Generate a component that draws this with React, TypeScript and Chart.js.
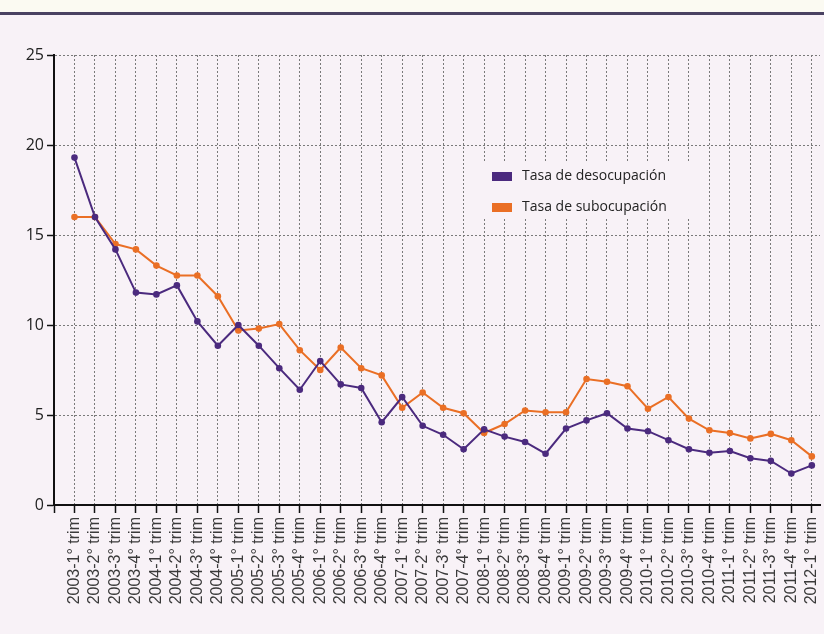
import React, { useEffect, useRef } from "react";
import { Chart, registerables } from "chart.js";

Chart.register(...registerables);

const categories = [
  "2003-1° trim", "2003-2° trim", "2003-3° trim", "2003-4° trim",
  "2004-1° trim", "2004-2° trim", "2004-3° trim", "2004-4° trim",
  "2005-1° trim", "2005-2° trim", "2005-3° trim", "2005-4° trim",
  "2006-1° trim", "2006-2° trim", "2006-3° trim", "2006-4° trim",
  "2007-1° trim", "2007-2° trim", "2007-3° trim", "2007-4° trim",
  "2008-1° trim", "2008-2° trim", "2008-3° trim", "2008-4° trim",
  "2009-1° trim", "2009-2° trim", "2009-3° trim", "2009-4° trim",
  "2010-1° trim", "2010-2° trim", "2010-3° trim", "2010-4° trim",
  "2011-1° trim", "2011-2° trim", "2011-3° trim", "2011-4° trim",
  "2012-1° trim",
];

const desocupacion = [
  19.3, 16.0, 14.2, 11.8, 11.7, 12.2, 10.2, 8.85, 10.0, 8.85,
  7.6, 6.4, 8.0, 6.7, 6.5, 4.6, 6.0, 4.4, 3.9, 3.1,
  4.2, 3.8, 3.5, 2.85, 4.25, 4.7, 5.1, 4.25, 4.1, 3.6,
  3.1, 2.9, 3.0, 2.6, 2.45, 1.75, 2.2,
];

const subocupacion = [
  16.0, 16.0, 14.5, 14.2, 13.3, 12.75, 12.75, 11.6, 9.7, 9.8,
  10.05, 8.6, 7.5, 8.75, 7.6, 7.2, 5.4, 6.25, 5.4, 5.1,
  4.0, 4.5, 5.25, 5.15, 5.15, 7.0, 6.85, 6.6, 5.35, 6.0,
  4.8, 4.15, 4.0, 3.7, 3.95, 3.6, 2.7,
];

const seriesNames = ["Tasa de desocupación", "Tasa de subocupación"];
const seriesColors = ["#4b2a7e", "#ea6f25"];
const yTicks = [0, 5, 10, 15, 20, 25];

const BG = "#f8f2f7";

const legendPlugin = {
  id: "insideLegend",
  afterDatasetsDraw(chart: any) {
    const { ctx, chartArea } = chart;
    const x0 = chartArea.left + 438;
    const y0 = chartArea.top + 121;
    ctx.save();
    ctx.fillStyle = BG;
    ctx.fillRect(x0 - 10, y0 - 13, 224, 56);
    ctx.font = "14px 'Open Sans', sans-serif";
    ctx.textBaseline = "middle";
    seriesNames.forEach((name, i) => {
      const y = y0 + i * 31;
      ctx.fillStyle = seriesColors[i];
      ctx.fillRect(x0, y - 4, 20, 9);
      ctx.fillStyle = "#222";
      ctx.fillText(name, x0 + 30, y);
    });
    ctx.restore();
  },
};

export default function App() {
  const ref = useRef<HTMLCanvasElement>(null);

  useEffect(() => {
    if (!ref.current) return;
    const chart = new Chart(ref.current, {
      type: "line",
      data: {
        datasets: [desocupacion, subocupacion].map((vals, s) => ({
          label: seriesNames[s],
          data: vals.map((v, i) => ({ x: i, y: v })),
          borderColor: seriesColors[s],
          backgroundColor: seriesColors[s],
          borderWidth: 2,
          pointRadius: 3.3,
          pointBorderWidth: 0,
          tension: 0,
        })),
      },
      plugins: [legendPlugin],
      options: {
        animation: false,
        responsive: false,
        layout: { padding: { top: 55, right: 2, left: 0, bottom: 0 } },
        plugins: { legend: { display: false }, tooltip: { enabled: false } },
        scales: {
          x: {
            type: "linear",
            min: -1,
            max: 36.4,
            afterFit: (s: any) => { s.height = 129; s.paddingLeft = 0; s.paddingRight = 0; },
            border: { display: true, color: "#111", width: 2, dash: [2, 2] },
            grid: {
              color: (c: any) => (c.tick && c.tick.value === -1 ? "rgba(0,0,0,0)" : "#7a7a7a"),
              lineWidth: 1,
              tickColor: "#111",
              tickLength: 8,
              tickWidth: 1.5,
              tickBorderDash: [],
            } as any,
            ticks: {
              stepSize: 1,
              includeBounds: false,
              autoSkip: false,
              maxRotation: 90,
              minRotation: 90,
              padding: 4,
              color: "#3a3a3a",
              font: { family: "'Liberation Sans', Arial, sans-serif", size: 16 },
              callback: (v: any) => {
                const i = Math.round(Number(v));
                return i >= 0 && i < categories.length ? categories[i] : "";
              },
            },
          },
          y: {
            min: 0,
            max: 25,
            afterFit: (s: any) => { s.width = 54; },
            afterBuildTicks: (s: any) => { s.ticks = yTicks.map((v) => ({ value: v })); },
            border: { display: true, color: "#111", width: 2, dash: [2, 2] },
            grid: {
              color: (c: any) => (c.tick && c.tick.value === 0 ? "rgba(0,0,0,0)" : "#7a7a7a"),
              lineWidth: 1,
              tickColor: "#111",
              tickLength: 7,
              tickWidth: 1.5,
              tickBorderDash: [],
            } as any,
            ticks: {
              padding: 3,
              color: "#222",
              font: { family: "'Open Sans', sans-serif", size: 16 },
            },
          },
        },
      },
    });
    return () => chart.destroy();
  }, []);

  return (
    <div style={{ position: "absolute", left: 0, top: 0, width: 824, height: 634, background: BG }}>
      <div style={{ position: "absolute", left: 0, top: 0, width: 824, height: 12, background: "#fbfaf2" }} />
      <div style={{ position: "absolute", left: 0, top: 12, width: 824, height: 3, background: "#4a4262" }} />
      <canvas ref={ref} width={824} height={634} style={{ position: "absolute", left: 0, top: 0 }} />
    </div>
  );
}
